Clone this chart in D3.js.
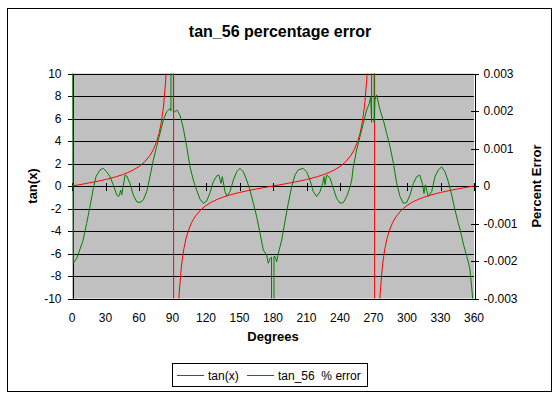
<!DOCTYPE html>
<html><head><meta charset="utf-8">
<script src="https://cdn.jsdelivr.net/npm/d3@7"></script>
<style>
body{margin:0;background:#fff;}
svg{display:block;font-family:Arial,"Liberation Sans",sans-serif;}
</style></head>
<body><svg id="c" width="560" height="399"></svg>
<script>
// ---- data ----
const title = "tan_56 percentage error";
const leftTicks = [-10,-8,-6,-4,-2,0,2,4,6,8,10];
const rightTicks = [-0.003,-0.002,-0.001,0,0.001,0.002,0.003];
const xTicks = [0,30,60,90,120,150,180,210,240,270,300,330,360];

const tanDeg = [0,5,10,15,20,25,30,35,40,45,50,55,60,65,70,73,76,78,80,82,84,85,89,90,91,95,96,98,100,102,104,107,110,115,120,125,130,135,140,145,150,155,160,165,170,175,
  180,185,190,195,200,205,210,215,220,225,230,235,240,245,250,253,256,258,260,262,264,265,269,270,271,275,276,278,280,282,284,287,290,295,300,305,310,315,320,325,330,335,340,345,350,355,360];
const tanVal = [0,0.087,0.176,0.268,0.364,0.466,0.577,0.700,0.839,1.0,1.192,1.428,1.732,2.145,2.747,3.271,4.011,4.705,5.671,7.115,9.514,11.43,57.29,10000,-57.29,-11.43,-9.514,-7.115,-5.671,-4.705,-4.011,-3.271,-2.747,-2.145,-1.732,-1.428,-1.192,-1.0,-0.839,-0.700,-0.577,-0.466,-0.364,-0.268,-0.176,-0.087,
  0,0.087,0.176,0.268,0.364,0.466,0.577,0.700,0.839,1.0,1.192,1.428,1.732,2.145,2.747,3.271,4.011,4.705,5.671,7.115,9.514,11.43,57.29,10000,-57.29,-11.43,-9.514,-7.115,-5.671,-4.705,-4.011,-3.271,-2.747,-2.145,-1.732,-1.428,-1.192,-1.0,-0.839,-0.700,-0.577,-0.466,-0.364,-0.268,-0.176,-0.087,0];

const errDeg = [0,1.2,4.2,9.6,13.1,16.1,19.1,21.5,25.1,28.1,31.0,34.0,37.0,40.0,41.8,43.0,43.6,44.5,47.5,49.0,51.9,54.9,57.9,60.9,63.9,66.9,69.8,72.8,75.8,78.8,81.8,84.8,87.8,88.6,88.7,90.7,90.8,92.2,93.8,96.7,99.7,102.7,105.7,108.6,111.6,114.6,117.6,120.6,123.6,126.6,129.6,131.6,133.4,134.6,137.0,138.6,141.5,144.5,147.5,150.4,153.4,156.4,159.4,162.4,165.4,168.4,171.3,174.3,175.8,177.3,178.7,178.8,180.8,180.9,181.8,183.3,184.8,187.8,190.7,193.7,196.7,199.7,202.6,207.1,210.1,213.1,216.1,219.1,222.1,224.5,225.7,226.6,228.1,231.0,234.0,237.0,240.0,243.0,246.0,249.0,250.5,251.9,254.9,257.9,260.9,263.9,266.2,267.5,268.3,268.4,270.4,270.6,271.3,272.8,275.8,278.8,281.8,284.8,287.8,290.8,293.7,296.7,299.7,302.7,305.7,308.7,311.6,314.0,315.2,316.4,319.1,322.1,325.1,328.1,331.1,334.0,337.0,340.0,343.0,346.0,347.5,349.0,350.5,352.0,353.5,354.9,356.4,357.9,359.4,360];
const errVal = [0.01,-0.00206,-0.00193,-0.00148,-0.0010,-0.00055,-0.00006,0.00025,0.00043,0.00047,0.00038,0.00025,0.00003,-0.00024,-0.00028,-0.00018,-0.00011,-0.00024,0.00029,0.00027,0.00007,-0.00024,-0.00042,-0.00044,-0.00037,-0.00015,0.00025,0.00069,0.00105,0.00140,0.00176,0.00198,0.00207,0.0020,0.05,0.05,0.00198,0.00198,0.00203,0.00189,0.00154,0.00105,0.00051,0.00016,-0.00011,-0.00035,-0.00046,-0.00040,-0.00018,0.00012,0.00027,0.00029,0.00007,0.00025,-0.00015,-0.00027,-0.00015,0.00016,0.00038,0.00047,0.00038,0.00016,-0.00011,-0.00046,-0.00082,-0.00126,-0.00171,-0.00184,-0.00206,-0.00193,-0.0019,-0.05,-0.05,-0.00188,-0.00188,-0.00202,-0.00179,-0.00144,-0.00095,-0.00046,-0.00002,0.00029,0.00043,0.00047,0.00038,0.00016,-0.00015,-0.00028,-0.00015,0.00007,0.00025,0.00003,0.00029,0.00022,-0.00006,-0.00033,-0.00046,-0.00044,-0.00028,-0.00002,0.00016,0.00051,0.00096,0.00132,0.00167,0.00203,0.0022,0.00238,0.0017,0.05,0.05,0.0017,0.0023,0.00243,0.00203,0.00176,0.00140,0.00105,0.00061,0.00007,-0.00028,-0.00046,-0.00044,-0.00024,0.00007,0.00025,0.00029,0.00003,-0.0002,0.00003,-0.00028,-0.00015,0.00025,0.00043,0.00051,0.00038,0.00012,-0.00024,-0.00064,-0.0010,-0.00115,-0.00135,-0.00155,-0.00171,-0.00188,-0.00202,-0.00224,-0.00269,-0.0032,-0.01];

// ---- layout ----
const svg = d3.select("#c");
const L = 72, R = 474, T = 73.5, B = 298.5;
const x = d3.scaleLinear().domain([0,360]).range([L,R]);
const yL = d3.scaleLinear().domain([-10,10]).range([B,T]);
const yR = d3.scaleLinear().domain([-0.003,0.003]).range([B,T]);

svg.append("rect").attr("x",7.5).attr("y",8.5).attr("width",544).attr("height",383)
  .attr("fill","#fff").attr("stroke","#000");

svg.append("text").attr("x",280).attr("y",37).attr("text-anchor","middle")
  .attr("font-size",16).attr("font-weight","bold").text(title);

svg.append("rect").attr("x",L).attr("y",T).attr("width",R-L).attr("height",B-T).attr("fill","#C0C0C0");

// gridlines
svg.append("g").selectAll("line").data(leftTicks).join("line")
  .attr("x1",L).attr("x2",R).attr("y1",d=>Math.round(yL(d))+0.5).attr("y2",d=>Math.round(yL(d))+0.5)
  .attr("stroke","#000");

// left axis
const gl = svg.append("g").attr("transform",`translate(${L+0.5},0)`)
  .call(d3.axisLeft(yL).tickValues(leftTicks).tickSize(5).tickPadding(6).tickSizeOuter(0));
// right axis
const gr = svg.append("g").attr("transform",`translate(${R+0.5},0)`)
  .call(d3.axisRight(yR).tickValues(rightTicks).tickSize(4).tickPadding(5).tickSizeOuter(0)
    .tickFormat(d=> d===0 ? "0" : d3.format(".3f")(d).replace("−","-")));
gr.selectAll(".tick line").attr("x1",-4).attr("x2",4);
gl.selectAll(".tick text").text(d=>String(d));
// x axis on zero line, labels at bottom
const gx = svg.append("g").attr("transform",`translate(0,${Math.round(yL(0))+0.5})`)
  .call(d3.axisBottom(x).tickValues(xTicks).tickSize(3).tickFormat(""));
gx.selectAll(".tick line").attr("y1",-4).attr("y2",4);
gx.select(".domain").remove();
svg.append("g").selectAll("text").data(xTicks).join("text")
  .attr("x",d=>x(d)).attr("y",322).attr("text-anchor","middle").attr("font-size",12).text(d=>d);

[gl,gr,gx].forEach(g=>{
  g.selectAll("text").attr("font-size",12).attr("font-family","Arial,'Liberation Sans',sans-serif").attr("fill","#000");
  g.selectAll("line,path").attr("stroke","#000").attr("shape-rendering","crispEdges");
});

// clip
svg.append("clipPath").attr("id","pc").append("rect").attr("x",L).attr("y",T).attr("width",R-L).attr("height",B-T);

const redPts = tanDeg.map((d,i)=>[d,tanVal[i]]);
const grnPts = errDeg.map((d,i)=>[d,errVal[i]]);
svg.append("path").attr("clip-path","url(#pc)").attr("fill","none").attr("stroke","#FF0000").attr("stroke-width",1)
  .attr("d", d3.line().x(d=>x(d[0])).y(d=>yL(d[1])).curve(d3.curveLinear)(redPts));
svg.append("path").attr("clip-path","url(#pc)").attr("fill","none").attr("stroke","#008000").attr("stroke-width",1)
  .attr("d", d3.line().x(d=>x(d[0])).y(d=>yR(d[1]))(grnPts));

// axis titles
svg.append("text").attr("transform","translate(37,186) rotate(-90)").attr("text-anchor","middle")
  .attr("font-size",13).attr("font-weight","bold").text("tan(x)");
svg.append("text").attr("transform","translate(541,186) rotate(-90)").attr("text-anchor","middle")
  .attr("font-size",13).attr("font-weight","bold").text("Percent Error");
svg.append("text").attr("x",273).attr("y",341).attr("text-anchor","middle")
  .attr("font-size",13).attr("font-weight","bold").text("Degrees");

// legend
const legend = svg.append("g");
legend.append("rect").attr("x",172.5).attr("y",363.5).attr("width",195).attr("height",23).attr("fill","#fff").attr("stroke","#000");
const legItems = [{label:"tan(x)",color:"#FF0000",x:177},{label:"tan_56  % error",color:"#008000",x:247}];
legItems.forEach(it=>{
  legend.append("line").attr("x1",it.x).attr("x2",it.x+27).attr("y1",375.5).attr("y2",375.5).attr("stroke",it.color);
  legend.append("text").attr("x",it.x+31).attr("y",380).attr("font-size",12).style("white-space","pre").text(it.label);
});
</script></body></html>
